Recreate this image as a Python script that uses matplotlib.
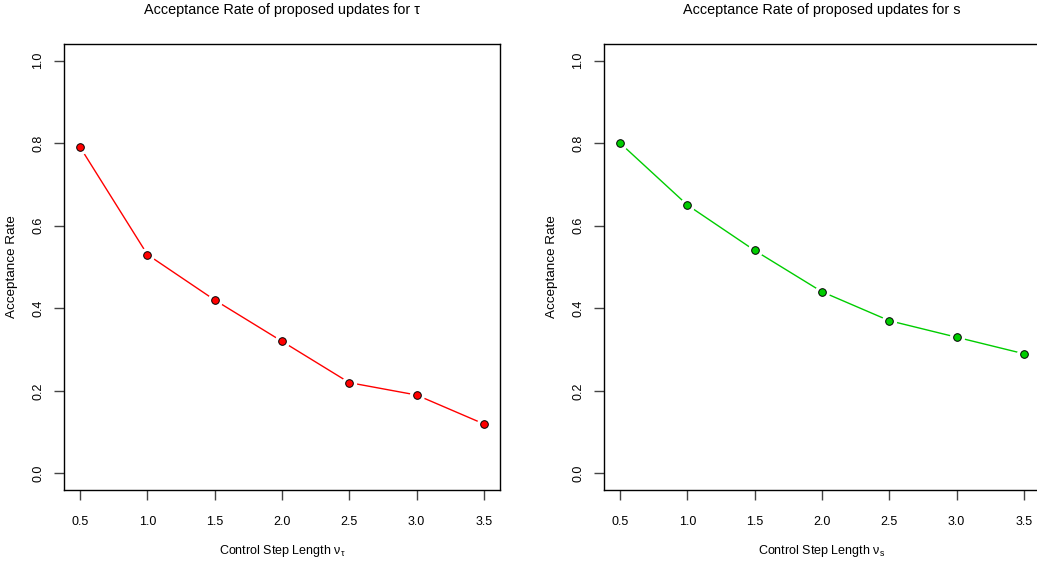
import matplotlib
matplotlib.use("Agg")
import matplotlib.pyplot as plt

plt.rcParams['font.family'] = ['Liberation Sans', 'DejaVu Sans']
plt.rcParams['mathtext.fontset'] = 'custom'
plt.rcParams['mathtext.rm'] = 'Liberation Sans'
plt.rcParams['mathtext.it'] = 'Liberation Sans'
plt.rcParams['mathtext.sf'] = 'Liberation Sans'

step = [0.5, 1.0, 1.5, 2.0, 2.5, 3.0, 3.5]
rate_tau = [0.79, 0.53, 0.42, 0.32, 0.22, 0.19, 0.12]
rate_s = [0.80, 0.65, 0.54, 0.44, 0.37, 0.33, 0.29]
xticks = [0.5, 1.0, 1.5, 2.0, 2.5, 3.0, 3.5]
yticks = [0.0, 0.2, 0.4, 0.6, 0.8, 1.0]

W, H = 1037, 564
fig = plt.figure(figsize=(W / 100, H / 100), dpi=100)

panels = [
    (64, rate_tau, '#FF0000', 'Acceptance Rate of proposed updates for τ', r'Control Step Length ν$_\mathrm{τ}$'),
    (604, rate_s, '#00CD00', 'Acceptance Rate of proposed updates for s', r'Control Step Length ν$_\mathrm{s}$'),
]

for left, vals, col, title, xlab in panels:
    ax = fig.add_axes([left / W, (H - 490) / H, 436 / W, 446 / H])
    ax.plot(step, vals, color=col, lw=1, zorder=1)
    ax.plot(step, vals, 'o', color='white', ms=11, mec='none', zorder=2)
    ax.plot(step, vals, 'o', color=col, ms=5.5, mec='black', mew=0.7, zorder=3)
    ax.set_xlim(0.38, 3.62)
    ax.set_ylim(-0.04, 1.04)
    ax.set_xticks(xticks)
    ax.set_xticklabels([f'{t:.1f}' for t in xticks])
    ax.set_yticks(yticks)
    ax.set_yticklabels([f'{t:.1f}' for t in yticks], rotation=90, va='center')
    ax.tick_params(axis='x', direction='out', length=7, width=1, color='#444444', pad=12, labelsize=9)
    ax.tick_params(axis='y', direction='out', length=7, width=1, color='#444444', pad=7, labelsize=9)
    for sp in ax.spines.values():
        sp.set_linewidth(1)
        sp.set_color('black')
    ax.set_xlabel(xlab, fontsize=9)
    ax.xaxis.set_label_coords(0.5, -0.137)
    ax.xaxis.label.set_va('center')
    ax.set_ylabel('Acceptance Rate', fontsize=9.7)
    ax.yaxis.set_label_coords(-0.119, 0.5)
    ax.yaxis.label.set_va('center')
    ax.text(0.5, 1.077, title, transform=ax.transAxes, ha='center', va='center', fontsize=10.4)

fig.savefig('out.png', dpi=100)
